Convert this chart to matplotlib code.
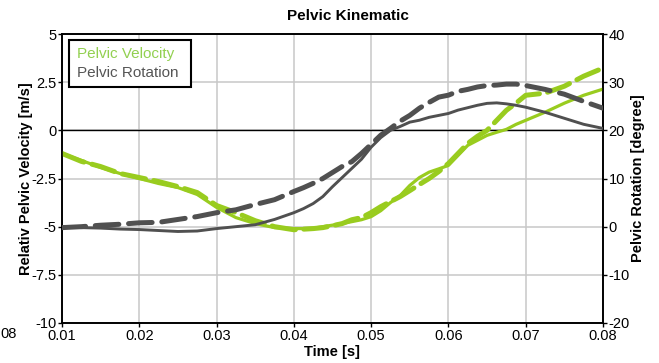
import matplotlib
matplotlib.use("Agg")
import matplotlib.pyplot as plt
from matplotlib.patches import Rectangle

plt.rcParams['font.family'] = ['Liberation Sans', 'DejaVu Sans']
plt.rcParams['lines.scale_dashes'] = False

# time samples [s] (denser where the curves bend)
time_s = [0.01, 0.0125, 0.015, 0.0175, 0.02, 0.0225, 0.025, 0.0275, 0.03,
          0.0325, 0.035, 0.0375, 0.04, 0.04125, 0.0425, 0.04375, 0.045,
          0.04625, 0.0475, 0.04875, 0.05, 0.05125, 0.0525, 0.05375, 0.055,
          0.05625, 0.0575, 0.05875, 0.06, 0.06125, 0.0625, 0.06375, 0.065,
          0.06625, 0.0675, 0.06875, 0.07, 0.0725, 0.075, 0.0775, 0.08]

# relative pelvic velocity [m/s]
velocity_solid = [-1.20, -1.56, -1.93, -2.24, -2.50, -2.76, -2.97, -3.33, -4.00,
                  -4.53, -4.84, -5.05, -5.10, -5.10, -5.08, -5.00, -4.92,
                  -4.84, -4.74, -4.64, -4.48, -4.17, -3.75, -3.39, -2.86,
                  -2.45, -2.17, -2.00, -1.82, -1.30, -0.78, -0.52, -0.26,
                  -0.10, 0.05, 0.31, 0.52, 0.94, 1.41, 1.82, 2.14]
velocity_dashed = [-1.20, -1.61, -1.88, -2.24, -2.45, -2.66, -2.92, -3.23, -3.90,
                   -4.27, -4.69, -5.00, -5.16, -5.13, -5.10, -5.05, -4.95,
                   -4.84, -4.64, -4.53, -4.27, -3.96, -3.70, -3.44, -3.13,
                   -2.81, -2.50, -2.14, -1.72, -1.20, -0.68, -0.31, 0.00,
                   0.52, 1.04, 1.41, 1.82, 1.93, 2.29, 2.81, 3.23]

# pelvic rotation [degree]
rotation_solid = [0.0, -0.2, -0.3, -0.5, -0.6, -0.8, -1.0, -0.9, -0.4,
                  0.0, 0.4, 1.5, 2.9, 3.75, 4.8, 6.25, 8.3,
                  10.2, 12.1, 14.0, 16.5, 18.5, 20.0, 20.8, 21.7,
                  22.1, 22.7, 23.1, 23.5, 24.2, 24.7, 25.2, 25.6,
                  25.7, 25.5, 25.2, 24.8, 23.75, 22.5, 21.25, 20.4]
rotation_dashed = [-0.2, 0.0, 0.3, 0.5, 0.8, 0.9, 1.5, 2.1, 2.9,
                   3.5, 4.6, 5.6, 7.3, 8.1, 9.0, 10.0, 11.25,
                   12.5, 13.5, 15.2, 17.1, 19.0, 20.4, 21.9, 23.1,
                   24.6, 25.8, 26.9, 27.3, 28.1, 28.5, 29.0, 29.3,
                   29.4, 29.6, 29.6, 29.3, 28.5, 27.5, 26.0, 24.6]

x_ticks = [0.01, 0.02, 0.03, 0.04, 0.05, 0.06, 0.07, 0.08]
x_tick_labels = ['0.01', '0.02', '0.03', '0.04', '0.05', '0.06', '0.07', '0.08']
left_ticks = [5, 2.5, 0, -2.5, -5, -7.5, -10]
left_tick_labels = ['5', '2.5', '0', '-2.5', '-5', '-7.5', '-10']
right_ticks = [40, 30, 20, 10, 0, -10, -20]
right_tick_labels = ['40', '30', '20', '10', '0', '-10', '-20']
legend_labels = ['Pelvic Velocity', 'Pelvic Rotation']

GREEN = '#99cc1f'
GREEN_TEXT = '#92d050'
GREY = '#505050'
GREY_TEXT = '#555555'

W, H = 659, 363
fig = plt.figure(figsize=(W / 100, H / 100), dpi=100)
ax = fig.add_axes([62 / W, 1 - 323 / H, 541 / W, 289 / H])
ax2 = ax.twinx()

# grid and zero line
ax.set_axisbelow(True)
ax.grid(True, color='#c8c8c8', linewidth=1.1)
ax.axhline(0, color='black', linewidth=1.0, zorder=1.5)

ax.plot(time_s, velocity_solid, color=GREEN, linewidth=2.3,
        solid_capstyle='round', solid_joinstyle='round', zorder=3)
ax.plot(time_s, velocity_dashed, color=GREEN, linewidth=3.6, dashes=(17, 6),
        dash_capstyle='round', dash_joinstyle='round', zorder=3)

ax2.plot(time_s, rotation_solid, color=GREY, linewidth=2.1,
         solid_joinstyle='round', zorder=3)
ax2.plot(time_s, rotation_dashed, color=GREY, linewidth=3.6, dashes=(17, 7),
         dash_capstyle='round', dash_joinstyle='round', zorder=3)

ax.set_xlim(0.01, 0.08)
ax.set_ylim(-10, 5)
ax2.set_ylim(-20, 40)

ax.set_xticks(x_ticks)
ax.set_xticklabels(x_tick_labels)
ax.set_yticks(left_ticks)
ax.set_yticklabels(left_tick_labels)
ax2.set_yticks(right_ticks)
ax2.set_yticklabels(right_tick_labels)

for a in (ax, ax2):
    a.tick_params(axis='both', labelsize=10.5, length=3, width=1, pad=1, colors='black')
    for s in a.spines.values():
        s.set_color('black')
        s.set_linewidth(1.2)

ax.set_xlabel('Time [s]', fontsize=10.5, fontweight='bold', labelpad=2)
ax.set_ylabel('Relativ Pelvic Velocity [m/s]', fontsize=10.5, fontweight='bold', labelpad=-1.5)
ax2.set_ylabel('Pelvic Rotation [degree]', fontsize=10.5, fontweight='bold', labelpad=1)
fig.text(348 / W, 1 - 16 / H, 'Pelvic Kinematic', ha='center', va='center',
         fontsize=11, fontweight='bold')

# legend box with coloured entries only
fig.patches.append(Rectangle((69 / W, 1 - 87 / H), 122 / W, 47 / H,
                             transform=fig.transFigure, facecolor='white',
                             edgecolor='black', linewidth=1.5, zorder=5))
for label, color, ypx in zip(legend_labels, [GREEN_TEXT, GREY_TEXT], [54, 73]):
    fig.text(77 / W, 1 - ypx / H, label, ha='left', va='center',
             fontsize=11, color=color, zorder=6)

# tail of the neighbouring panel's tick label at the edge
fig.text(0, 1 - 334 / H, '08', ha='left', va='center', fontsize=10.5)

fig.savefig('out.png', dpi=100)
